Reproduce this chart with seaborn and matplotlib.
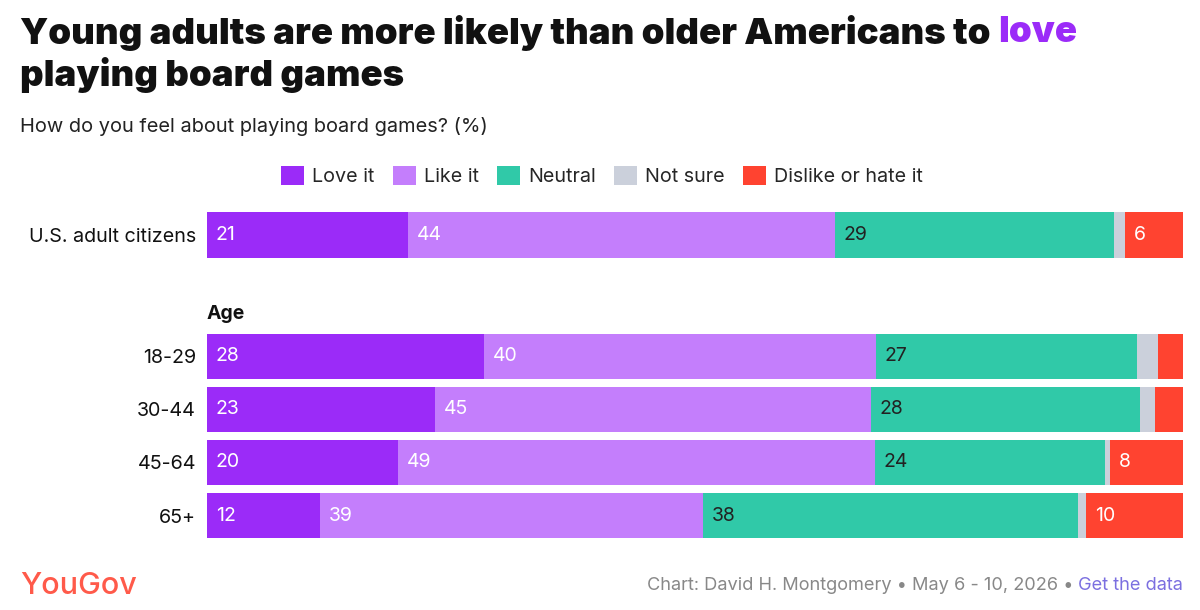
import matplotlib
matplotlib.use("Agg")
import matplotlib.pyplot as plt
import seaborn as sns
import pandas as pd
import numpy as np
from matplotlib.patches import Patch

# ---- data ----
groups = ["U.S. adult citizens", "18-29", "30-44", "45-64", "65+"]
series = ["Love it", "Like it", "Neutral", "Not sure", "Dislike or hate it"]
love = [20.6, 28.4, 23.4, 19.6, 11.6]
like = [43.7, 40.1, 44.6, 48.8, 39.2]
neutral = [28.6, 26.8, 27.6, 23.6, 38.4]
not_sure = [1.2, 2.1, 1.5, 0.5, 0.9]
dislike = [5.9, 2.6, 2.9, 7.5, 9.9]

# ---- style ----
colors = ["#9B2BF8", "#C47EFC", "#30C9A8", "#CBD0DB", "#FF4330"]
label_colors = ["white", "white", "#222222", "#222222", "white"]
row_pos = [0.0, 2.29, 3.29, 4.29, 5.30]

sns.set_theme(style="white")
plt.rcParams["font.family"] = ["Inter", "DejaVu Sans"]

fig = plt.figure(figsize=(12, 6.1), dpi=100)
ax = fig.add_axes([207 / 1200, 65 / 610, 976 / 1200, 340 / 610])

vals = [love, like, neutral, not_sure, dislike]
cum = np.cumsum(np.array(vals), axis=0)
df = pd.DataFrame({"pos": row_pos})
for i in range(len(series) - 1, -1, -1):
    df["v"] = cum[i]
    sns.barplot(data=df, x="v", y="pos", orient="h", native_scale=True,
                color=colors[i], saturation=1, width=0.85, linewidth=0,
                ax=ax, errorbar=None)

# value labels
for i in range(len(series)):
    for j in range(len(groups)):
        v = vals[i][j]
        if v >= 5:
            left = cum[i][j] - v
            ax.text(left + 0.9, row_pos[j], f"{round(v)}", ha="left", va="center",
                    fontsize=14, color=label_colors[i])

ax.set_xlim(0, 100)
ax.set_ylim(5.849, -0.566)
ax.set_yticks(row_pos)
ax.set_yticklabels(groups, fontsize=14.2, color="#111111")
ax.tick_params(axis="y", length=0, pad=8)
ax.set_xticks([])
ax.set_xlabel("")
ax.set_ylabel("")
for s in ax.spines.values():
    s.set_visible(False)

ax.text(0, 1.5, "Age", fontsize=14, fontweight="bold", ha="left", va="center",
        color="#111111")

# title
fig.canvas.draw()
r = fig.canvas.get_renderer()
t1 = fig.text(20 / 1200, 1 - 33 / 610, "Young adults are more likely than older Americans to ",
              fontsize=26.3, fontweight="black", color="#111111", va="center", ha="left")
bb = t1.get_window_extent(renderer=r)
fig.text(bb.x1 / 1200, 1 - 33 / 610, "love", fontsize=26.3, fontweight="black",
         color="#9B2BF8", va="center", ha="left")
fig.text(20 / 1200, 1 - 75 / 610, "playing board games", fontsize=26.3, fontweight="black",
         color="#111111", va="center", ha="left")
fig.text(20 / 1200, 1 - 127 / 610, "How do you feel about playing board games? (%)",
         fontsize=14.4, color="#222222", va="center", ha="left")

# legend
handles = [Patch(facecolor=c, edgecolor="none") for c in colors]
fig.legend(handles, series, loc="center", bbox_to_anchor=(602 / 1200, 1 - 176 / 610),
           ncol=5, frameon=False, fontsize=14.2, handlelength=1.15, handleheight=1.15,
           handletextpad=0.4, columnspacing=0.95, borderaxespad=0)

# footer
fig.text(20 / 1200, 1 - 586 / 610, "YouGov", fontsize=22, fontweight="medium",
         color="#FF5A4A", va="center", ha="left")
g = fig.text(1183 / 1200, 1 - 586 / 610, "Get the data", fontsize=13.1,
             color="#7B6FE0", va="center", ha="right")
gb = g.get_window_extent(renderer=r)
fig.text(gb.x0 / 1200, 1 - 586 / 610, "Chart: David H. Montgomery • May 6 - 10, 2026 • ",
         fontsize=13.1, color="#888888", va="center", ha="right")

fig.savefig("out.png", dpi=100, facecolor="white")
